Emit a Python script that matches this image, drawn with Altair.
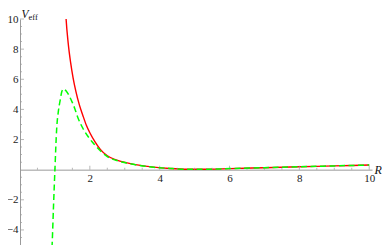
import altair as alt
import pandas as pd

# Red solid curve (V_eff)
red_R = [1.31, 1.32, 1.38, 1.45, 1.52, 1.6, 1.7, 1.8, 1.9, 2.0, 2.14, 2.3, 2.5, 2.75,
         3.07, 3.4, 3.83, 4.3, 4.8, 5.3, 6, 7, 8, 9, 10]
red_V = [10.4, 10.0, 8.4, 7.1, 6.1, 5.2, 4.3, 3.6, 2.95, 2.45, 1.88, 1.35, 0.92, 0.65,
         0.45, 0.3, 0.17, 0.08, 0.03, 0.03, 0.07, 0.13, 0.19, 0.25, 0.31]

# Green dashed curve
green_R = [0.905, 0.92, 0.96, 1.0, 1.05, 1.1, 1.15, 1.2, 1.25, 1.3, 1.36, 1.42, 1.5, 1.57,
           1.65, 1.8, 1.98, 2.14, 2.3, 2.5, 2.75, 3.07, 3.4, 3.83, 4.3, 4.8, 5.3, 6, 7, 8, 9, 10]
green_V = [-5.8, -5.0, -2.4, 0.0, 2.7, 3.9, 4.6, 5.2, 5.36, 5.28, 5.1, 4.85, 4.45, 4.05,
           3.5, 2.75, 2.1, 1.65, 1.25, 0.87, 0.62, 0.43, 0.29, 0.16, 0.08, 0.03, 0.03,
           0.07, 0.13, 0.19, 0.25, 0.31]

x_major = [2, 4, 6, 8, 10]
x_minor = [0.5, 1, 1.5, 2.5, 3, 3.5, 4.5, 5, 5.5, 6.5, 7, 7.5, 8.5, 9, 9.5]
y_major = [-4, -2, 2, 4, 6, 8, 10]
y_minor = [-4.5, -3.5, -3, -2.5, -1.5, -1, -0.5, 0.5, 1, 1.5, 2.5, 3, 3.5, 4.5, 5, 5.5,
           6.5, 7, 7.5, 8.5, 9, 9.5]

W, H = 352, 226
XDOM = [0, 10.08]
YDOM = [-5, 10]
AXIS_COLOR = "#9a9a9a"
LABEL_COLOR = "#222222"
FONT = "Times New Roman, Liberation Serif, serif"

xs = alt.Scale(domain=XDOM, nice=False, zero=False)
ys = alt.Scale(domain=YDOM, nice=False, zero=False)

red_df = pd.DataFrame({"R": red_R, "V": red_V})
green_df = pd.DataFrame({"R": green_R, "V": green_V})

x_axis = alt.Axis(
    values=x_major, offset=-(H * (0 - YDOM[0]) / (YDOM[1] - YDOM[0])), ticks=False,
    domainColor=AXIS_COLOR, domainWidth=1, labelFont=FONT, labelFontSize=11,
    labelColor=LABEL_COLOR, labelPadding=3, grid=False, labelFlush=False,
    title="R", titleX=W + 2, titleY=0, titleAlign="left", titleBaseline="middle",
    titleFont=FONT, titleFontSize=12, titleFontStyle="italic", titleFontWeight="normal",
    titleColor="#111111",
)
y_axis = alt.Axis(
    values=y_major, ticks=False, domainColor=AXIS_COLOR, domainWidth=1,
    labelFont=FONT, labelFontSize=11, labelColor=LABEL_COLOR, labelPadding=2,
    grid=False, labelFlush=False,
    title="V", titleAngle=0, titleX=1, titleY=-2, titleAlign="left",
    titleBaseline="alphabetic", titleFont=FONT, titleFontSize=11.5,
    titleFontStyle="italic", titleFontWeight="normal", titleColor="#111111",
)

red = alt.Chart(red_df).mark_line(
    color="#ff0000", strokeWidth=1.4, interpolate="monotone", clip=True
).encode(
    x=alt.X("R:Q", scale=xs, axis=x_axis),
    y=alt.Y("V:Q", scale=ys, axis=y_axis),
)

green = alt.Chart(green_df).mark_line(
    color="#00ff00", strokeWidth=1.5, strokeDash=[6, 3.5], interpolate="monotone", clip=True
).encode(
    x=alt.X("R:Q", scale=xs, axis=x_axis),
    y=alt.Y("V:Q", scale=ys, axis=y_axis),
)

def xticks(vals, size):
    df = pd.DataFrame({"R": vals, "V": [0] * len(vals)})
    return alt.Chart(df).mark_tick(
        orient="vertical", size=size, thickness=1, yOffset=-size / 2, color=AXIS_COLOR
    ).encode(x=alt.X("R:Q", scale=xs, axis=x_axis), y=alt.Y("V:Q", scale=ys, axis=y_axis))

def yticks(vals, size):
    df = pd.DataFrame({"V": vals, "R": [0] * len(vals)})
    return alt.Chart(df).mark_tick(
        orient="horizontal", size=size, thickness=1, xOffset=size / 2, color=AXIS_COLOR
    ).encode(y=alt.Y("V:Q", scale=ys, axis=y_axis), x=alt.X("R:Q", scale=xs, axis=x_axis))

sub = alt.Chart(pd.DataFrame({"s": ["eff"]})).mark_text(
    align="left", baseline="alphabetic", font=FONT, fontSize=8.5, color="#111111"
).encode(x=alt.value(8.5), y=alt.value(0.5), text="s:N")

chart = alt.layer(
    red, xticks(x_major, 4), xticks(x_minor, 2), yticks(y_major, 4), yticks(y_minor, 2),
    green, sub
).properties(
    width=W, height=H,
    padding={"left": 12, "top": 11, "right": 10, "bottom": 0},
    autosize=alt.AutoSizeParams(type="none"),
    background="white",
).configure_view(stroke=None)

chart.save("out.html", embed_options={"renderer": "svg", "actions": False})
